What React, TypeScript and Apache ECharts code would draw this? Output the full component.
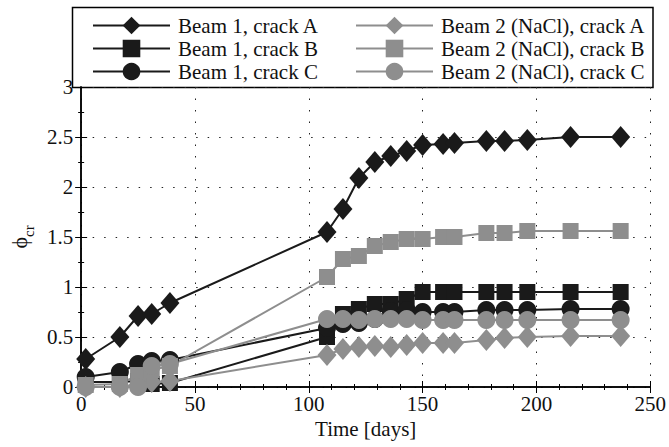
import React, { useEffect, useRef } from "react";
import * as echarts from "echarts";

const days = [2, 17, 25, 31, 39, 108, 115, 122, 129, 136, 143, 150, 159, 164, 178, 186, 196, 215, 237];

const beam1A = [0.28, 0.5, 0.71, 0.73, 0.84, 1.55, 1.78, 2.09, 2.25, 2.31, 2.36, 2.42, 2.43, 2.44, 2.46, 2.46, 2.47, 2.5, 2.5];
const beam1B = [0.05, 0.05, 0.06, 0.03, 0.04, 0.5, 0.73, 0.78, 0.83, 0.83, 0.88, 0.95, 0.95, 0.95, 0.95, 0.95, 0.95, 0.95, 0.95];
const beam1C = [0.1, 0.15, 0.23, 0.26, 0.27, 0.59, 0.63, 0.64, 0.68, 0.76, 0.77, 0.75, 0.75, 0.75, 0.77, 0.77, 0.77, 0.78, 0.78];
const beam2A = [0.0, 0.0, 0.02, 0.05, 0.06, 0.32, 0.38, 0.4, 0.41, 0.4, 0.42, 0.44, 0.44, 0.44, 0.47, 0.49, 0.5, 0.51, 0.51];
const beam2B = [0.02, 0.03, 0.12, 0.17, 0.21, 1.1, 1.28, 1.31, 1.41, 1.45, 1.48, 1.48, 1.5, 1.5, 1.54, 1.54, 1.56, 1.56, 1.56];
const beam2C = [0.0, 0.0, 0.0, 0.21, 0.23, 0.68, 0.68, 0.67, 0.68, 0.68, 0.68, 0.67, 0.67, 0.67, 0.67, 0.67, 0.67, 0.67, 0.67];

const names = [
  "Beam 1, crack A",
  "Beam 1, crack B",
  "Beam 1, crack C",
  "Beam 2 (NaCl), crack A",
  "Beam 2 (NaCl), crack B",
  "Beam 2 (NaCl), crack C",
];

const BLACK = "#1a1a1a";
const GRAY = "#8e8e8e";
const FONT = "Liberation Serif";

export default function App() {
  const ref = useRef<HTMLDivElement>(null);
  useEffect(() => {
    if (!ref.current) return;
    const chart = echarts.init(ref.current, undefined, { renderer: "svg" });
    const mk = (name: string, vals: number[], color: string, symbol: string, size: any) => ({
      name,
      type: "line",
      data: days.map((d, i) => [d, vals[i]]),
      symbol,
      symbolSize: size,
      showSymbol: true,
      lineStyle: { color, width: 2 },
      itemStyle: { color, borderWidth: 0 },
      emphasis: { disabled: true },
      clip: false,
    });
    const splitLine = { show: true, lineStyle: { color: "#222", width: 1, type: [1.5, 10] } };
    const tickLabel = { fontFamily: FONT, fontSize: 21, color: "#111" };
    const legendBase = {
      orient: "vertical",
      top: 10,
      itemWidth: 77,
      itemHeight: 22,
      itemGap: 2,
      selectedMode: false,
      textStyle: { fontFamily: FONT, fontSize: 21, color: "#111", padding: [0, 0, 0, 3] },
    };
    chart.setOption({
      animation: false,
      backgroundColor: "#fff",
      textStyle: { fontFamily: FONT },
      grid: { left: 73, right: 16, top: 87, bottom: 60 },
      legend: [
        { ...legendBase, left: 87, data: names.slice(0, 3) },
        { ...legendBase, left: 350, data: names.slice(3) },
      ],
      graphic: [
        {
          type: "rect",
          shape: { x: 72.5, y: 7.5, width: 580.5, height: 80 },
          style: { fill: "none", stroke: "#000", lineWidth: 1.5 },
          z: 0,
        },
      ],
      xAxis: [
        {
          type: "value",
          min: 0,
          max: 250,
          interval: 50,
          position: "bottom",
          axisLine: { show: true, lineStyle: { color: "#000", width: 1.5 } },
          axisTick: { show: true, inside: true, length: 6, lineStyle: { color: "#000" } },
          minorTick: { show: true, splitNumber: 5, length: 3, lineStyle: { color: "#000" } },
          splitLine,
          axisLabel: { ...tickLabel, margin: 6 },
          name: "Time [days]",
          nameLocation: "middle",
          nameGap: 31,
          nameTextStyle: { fontFamily: FONT, fontSize: 21, color: "#111" },
        },
        {
          type: "value",
          min: 0,
          max: 250,
          interval: 50,
          position: "top",
          axisLine: { show: true, lineStyle: { color: "#000", width: 1.5 } },
          axisTick: { show: true, inside: true, length: 6, lineStyle: { color: "#000" } },
          minorTick: { show: true, splitNumber: 5, length: 3, lineStyle: { color: "#000" } },
          splitLine: { show: false },
          axisLabel: { show: false },
        },
      ],
      yAxis: [
        {
          type: "value",
          min: 0,
          max: 3,
          interval: 0.5,
          position: "left",
          axisLine: { show: true, lineStyle: { color: "#000", width: 1.5 } },
          axisTick: { show: true, inside: true, length: 6, lineStyle: { color: "#000" } },
          minorTick: { show: true, splitNumber: 2, length: 3, lineStyle: { color: "#000" } },
          splitLine,
          axisLabel: { ...tickLabel, margin: 8 },
          name: "{p|ϕ}{s|cr}",
          nameLocation: "middle",
          nameGap: 40,
          nameRotate: 90,
          nameTextStyle: {
            fontFamily: FONT,
            rich: {
              p: { fontFamily: FONT, fontSize: 22, color: "#111", lineHeight: 24, verticalAlign: "bottom" },
              s: { fontFamily: FONT, fontSize: 15, color: "#111", lineHeight: 24, verticalAlign: "bottom", padding: [0, 0, -6, 0] },
            },
          },
        },
        {
          type: "value",
          min: 0,
          max: 3,
          interval: 0.5,
          position: "right",
          axisLine: { show: true, lineStyle: { color: "#000", width: 1.5 } },
          axisTick: { show: true, inside: true, length: 6, lineStyle: { color: "#000" } },
          minorTick: { show: true, splitNumber: 2, length: 3, lineStyle: { color: "#000" } },
          splitLine: { show: false },
          axisLabel: { show: false },
        },
      ],
      series: [
        mk(names[0], beam1A, BLACK, "diamond", [19, 22]),
        mk(names[1], beam1B, BLACK, "rect", 16),
        mk(names[2], beam1C, BLACK, "circle", 18),
        mk(names[3], beam2A, GRAY, "diamond", [19, 22]),
        mk(names[4], beam2B, GRAY, "rect", 16),
        mk(names[5], beam2C, GRAY, "circle", 18),
      ],
    });
    return () => chart.dispose();
  }, []);
  return (
    <div
      ref={ref}
      style={{ position: "absolute", left: 0, top: 0, width: 669, height: 447, background: "#fff" }}
    />
  );
}
